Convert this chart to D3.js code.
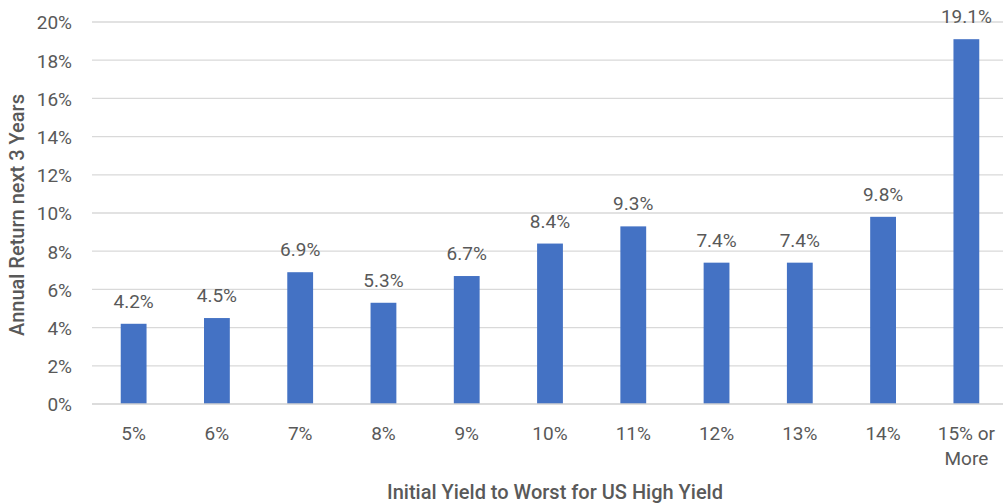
<!DOCTYPE html>
<html><head><meta charset="utf-8">
<script src="https://cdn.jsdelivr.net/npm/d3@7"></script>
<style>
html,body{margin:0;padding:0;background:#fff;}
svg{display:block;font-family:Roboto,"Noto Sans",sans-serif;}
</style></head>
<body><svg id="chart" width="1003" height="504"></svg>
<script>
const categories = ["5%","6%","7%","8%","9%","10%","11%","12%","13%","14%","15% or More"];
const values = [4.2,4.5,6.9,5.3,6.7,8.4,9.3,7.4,7.4,9.8,19.1];
const yTicks = [0,2,4,6,8,10,12,14,16,18,20];
const yTitle = "Annual Return next 3 Years";
const xTitle = "Initial Yield to Worst for US High Yield";

(function(){
const svg = d3.select("#chart");
const mLeft = 92, mRight = 1008, mTop = 22, mBottom = 404;
const x = d3.scaleBand().domain(categories).range([mLeft, mRight]).paddingInner(0.69).paddingOuter(0.345);
const y = d3.scaleLinear().domain([0,20]).range([mBottom, mTop]);
const grey = "#595959";
const fs = 19;

// gridlines
svg.append("g").selectAll("line").data(yTicks.filter(d=>d>0)).join("line")
  .attr("x1", mLeft).attr("x2", 1003).attr("y1", d=>y(d)).attr("y2", d=>y(d))
  .attr("stroke", "#d9d9d9").attr("stroke-width", 1.3);

// y axis labels
const yAxis = d3.axisLeft(y).tickValues(yTicks).tickFormat(d=>d+"%").tickSize(0).tickPadding(0);
const ga = svg.append("g").attr("transform", `translate(72,0)`).call(yAxis);
ga.select(".domain").remove();
ga.selectAll("text").attr("font-size", fs).attr("fill", grey).attr("font-family","Roboto").attr("dy", "0.36em");

// bars
svg.append("g").selectAll("rect").data(values).join("rect")
  .attr("x", (d,i)=>x(categories[i])).attr("width", x.bandwidth())
  .attr("y", d=>y(d)).attr("height", d=>y(0)-y(d))
  .attr("fill", "#4472c4");

// baseline
svg.append("line").attr("x1", mLeft).attr("x2", 1003).attr("y1", mBottom).attr("y2", mBottom)
  .attr("stroke", "#d0d0d0").attr("stroke-width", 1.5);

// data labels
svg.append("g").selectAll("text").data(values).join("text")
  .attr("x", (d,i)=>x(categories[i]) + x.bandwidth()/2)
  .attr("y", d=>y(d) - 16)
  .attr("text-anchor", "middle").attr("font-size", fs).attr("fill", grey)
  .text(d=>d.toFixed(1)+"%");

// x labels
const xl = svg.append("g").selectAll("text").data(categories).join("text")
  .attr("x", d=>x(d) + x.bandwidth()/2).attr("y", 440)
  .attr("text-anchor", "middle").attr("font-size", fs).attr("fill", grey);
xl.each(function(d){
  const t = d3.select(this);
  if (d === "15% or More") {
    t.append("tspan").attr("x", x(d)+x.bandwidth()/2).attr("dy", 0).text("15% or");
    t.append("tspan").attr("x", x(d)+x.bandwidth()/2).attr("dy", 25).text("More");
  } else t.text(d);
});

// axis titles
svg.append("text").attr("x", 555).attr("y", 499).attr("text-anchor","middle")
  .attr("font-size", 20).attr("font-weight", 500).attr("fill", grey).text(xTitle);
svg.append("text").attr("transform", "translate(24,215) rotate(-90)").attr("text-anchor","middle")
  .attr("font-size", 20).attr("font-weight", 500).attr("fill", grey).text(yTitle);
})();
</script></body></html>
